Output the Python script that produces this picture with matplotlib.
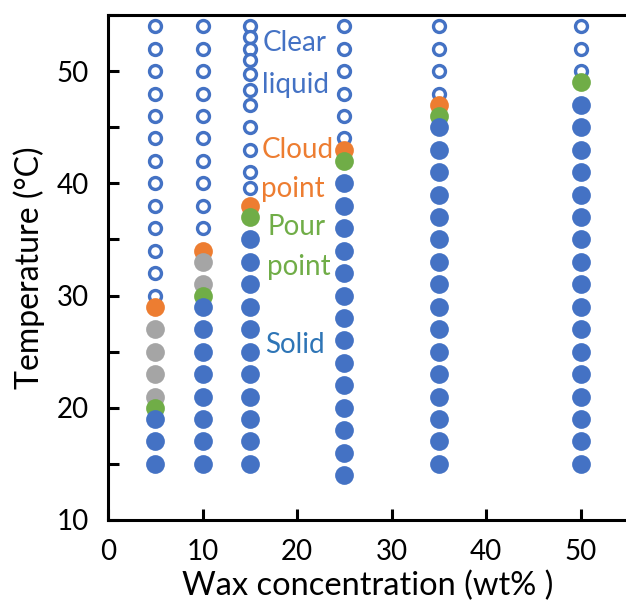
import matplotlib
matplotlib.use('Agg')
import matplotlib.pyplot as plt
from matplotlib.ticker import MultipleLocator

plt.rcParams['font.family'] = ['Lato', 'DejaVu Sans']

# wax concentration of each sample column (wt%)
conc = [5, 10, 15, 25, 35, 50]

# temperatures, one list per column
clear_liquid = [
    [54, 52, 50, 48, 46, 44, 42, 40, 38, 36, 34, 32, 30],
    [54, 52, 50, 48, 46, 44, 42, 40, 38, 36],
    [54, 53, 52, 51, 49.7, 48.3, 47, 45, 43, 41, 39.6],
    [54, 52, 50, 48, 46, 44],
    [54, 52, 50, 48],
    [54, 52, 50],
]
cloud_point = [[29], [34], [38], [43], [47], []]
between = [[27, 25, 23, 21], [33, 31], [], [], [], []]
pour_point = [[20], [30], [37], [42], [46], [49]]
solid = [
    [19, 17, 15],
    [29, 27, 25, 23, 21, 19, 17, 15],
    [35, 33, 31, 29, 27, 25, 23, 21, 19, 17, 15],
    [40, 38, 36, 34, 32, 30, 28, 26, 24, 22, 20, 18, 16, 14],
    [45, 43, 41, 39, 37, 35, 33, 31, 29, 27, 25, 23, 21, 19, 17, 15],
    [47, 45, 43, 41, 39, 37, 35, 33, 31, 29, 27, 25, 23, 21, 19, 17, 15],
]

labels = ['Clear', 'liquid', 'Cloud', 'point', 'Pour', 'point', 'Solid']
label_x = [16.4, 16.3, 16.2, 16.2, 16.9, 16.8, 16.6]
label_y = [52.5, 48.8, 43.0, 39.5, 36.1, 32.5, 25.6]
label_col = ['#4472C4', '#4472C4', '#ED7D31', '#ED7D31', '#70AD47', '#70AD47', '#2E75B6']

BLUE = '#4472C4'


def flat(groups):
    xs, ys = [], []
    for c, temps in zip(conc, groups):
        xs += [c] * len(temps)
        ys += temps
    return xs, ys


fig = plt.figure(figsize=(6.26, 6.05), dpi=100)
ax = fig.add_axes([108 / 626, 85 / 605, 520 / 626, 505 / 605])

x, y = flat(clear_liquid)
ax.plot(x, y, 'o', ms=8.6, mfc='white', mec=BLUE, mew=2.4, ls='none', zorder=2)
x, y = flat(cloud_point)
ax.plot(x, y, 'o', ms=13.5, color='#ED7D31', mec='none', ls='none', zorder=3)
x, y = flat(between)
ax.plot(x, y, 'o', ms=13.5, color='#A5A5A5', mec='none', ls='none', zorder=4)
x, y = flat(pour_point)
ax.plot(x, y, 'o', ms=13.5, color='#70AD47', mec='none', ls='none', zorder=5)
x, y = flat(solid)
ax.plot(x, y, 'o', ms=13.5, color=BLUE, mec='none', ls='none', zorder=6)

for t, lx, ly, c in zip(labels, label_x, label_y, label_col):
    ax.text(lx, ly, t, color=c, fontsize=20, ha='left', va='center', zorder=7)

ax.set_xlim(0, 55)
ax.set_ylim(10, 55)
ax.xaxis.set_major_locator(MultipleLocator(10))
ax.yaxis.set_major_locator(MultipleLocator(10))
ax.yaxis.set_minor_locator(MultipleLocator(5))
ax.tick_params(axis='both', which='both', direction='in', length=8, width=2.2,
               labelsize=20, color='black')
ax.tick_params(axis='x', pad=14)
ax.tick_params(axis='y', pad=14)
ax.spines['right'].set_visible(False)
for s in ['left', 'bottom', 'top']:
    ax.spines[s].set_linewidth(2.2)

ax.set_xlabel('Wax concentration (wt% )', fontsize=23.5, labelpad=4)
ax.set_ylabel('Temperature (°C)', fontsize=23, labelpad=8)

fig.savefig('out.png', dpi=100)
